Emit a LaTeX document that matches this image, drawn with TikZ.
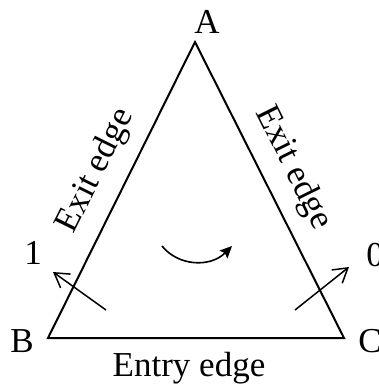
\documentclass[tikz,border=0pt]{standalone}
\usepackage{fontspec}
\setmainfont{Liberation Serif}
\usepackage{tikz}
\usetikzlibrary{arrows.meta,positioning,calc}

\begin{document}
\begin{tikzpicture}[x=1pt, y=-1pt,
  lbl/.style={font=\fontsize{35}{40}\selectfont, inner sep=0pt},
  edge/.style={line width=2pt, line join=miter},
  flow/.style={line width=1.5pt, -{Straight Barb[length=14pt, width=17pt]}},
  turn/.style={line width=1.6pt, -{Stealth[length=12pt, width=11pt, inset=2pt]}}]
  \useasboundingbox (0,0) rectangle (378,387);
  % Ecken
  \coordinate (A) at (195,42);
  \coordinate (B) at (48,338);
  \coordinate (C) at (344,338);
  \draw[edge] (A) -- (B) -- (C) -- cycle;
  % Beschriftung der Ecken
  \node[lbl] (la) at (207,22) {A};
  \node[lbl] (lb) at (22,341) {B};
  \node[lbl] (lc) at (370,341) {C};
  \node[lbl] (one) at (33,253) {1};
  \node[lbl] (zero) at (375,255) {0};
  % Kanten
  \node[lbl, rotate=63.6] (exitl) at (96,171) {Exit edge};
  \node[lbl, rotate=-63.6] (exitr) at (293,168) {Exit edge};
  \node[lbl] (entry) at (189,368) {Entry edge};
  % Pfeile
  \coordinate (p1) at (106,310);
  \coordinate (q1) at (53,272);
  \coordinate (p0) at (295,310);
  \coordinate (q0) at (349,267);
  \draw[flow] (p1) -- (q1);
  \draw[flow] (p0) -- (q0);
  \coordinate (r1) at (162,246);
  \coordinate (r2) at (232,246);
  \draw[turn] (r1) .. controls (178,266) and (210,268) .. (r2);
\end{tikzpicture}
\end{document}
